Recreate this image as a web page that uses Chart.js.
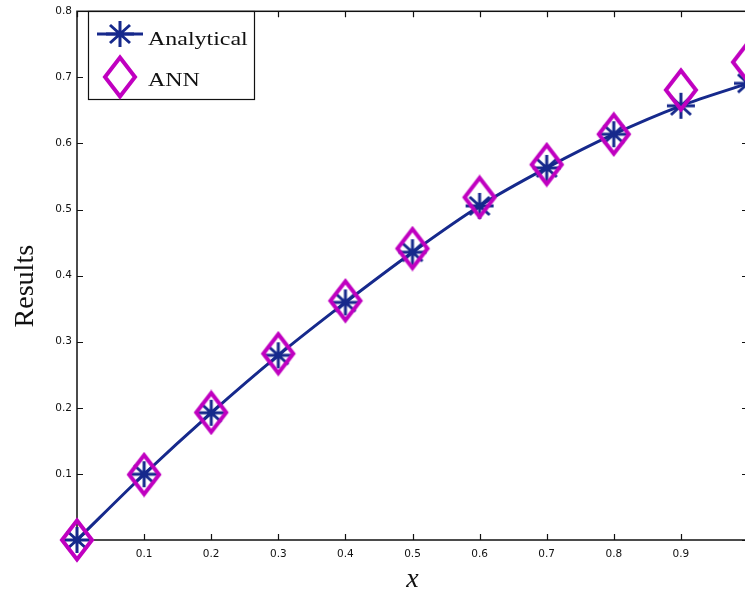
<!DOCTYPE html>
<html>
<head>
<meta charset="utf-8">
<script src="https://cdn.jsdelivr.net/npm/chart.js@4.4.0/dist/chart.umd.min.js"></script>
<style>
    body { margin: 0; background: #fff; }
    #wrap { width: 745px; height: 594px; overflow: hidden; }
</style>
</head>
<body>
<div id="wrap"><canvas id="chart" width="756" height="594"></canvas></div>
<script>
// Data
const xValues = [0, 0.1, 0.2, 0.3, 0.4, 0.5, 0.6, 0.7, 0.8, 0.9, 1.0];
const analytical = [0, 0.0995, 0.1925, 0.2795, 0.3595, 0.4355, 0.5055, 0.5630, 0.6140, 0.6570, 0.6910];
const ann = [0, 0.0990, 0.1930, 0.2820, 0.3620, 0.4410, 0.5185, 0.5680, 0.6140, 0.6810, 0.7230];
const xTicks = [0, 0.1, 0.2, 0.3, 0.4, 0.5, 0.6, 0.7, 0.8, 0.9, 1.0];
const yTicks = [0, 0.1, 0.2, 0.3, 0.4, 0.5, 0.6, 0.7, 0.8];
const seriesNames = ['Analytical', 'ANN'];

const blue = '#16298c';
const magenta = '#c000c0';

// Marker images (the figure is a bit stretched sideways)
function makeStar() {
    const c = document.createElement('canvas');
    c.width = 32; c.height = 30;
    const g = c.getContext('2d');
    g.strokeStyle = blue;
    g.lineWidth = 3;
    g.translate(16, 15);
    g.beginPath();
    g.moveTo(-14, 0); g.lineTo(14, 0);
    g.moveTo(0, -13); g.lineTo(0, 13);
    g.moveTo(-10, -9); g.lineTo(10, 9);
    g.moveTo(-10, 9); g.lineTo(10, -9);
    g.stroke();
    return c;
}

function makeDiamond() {
    const c = document.createElement('canvas');
    c.width = 38; c.height = 46;
    const g = c.getContext('2d');
    g.strokeStyle = magenta;
    g.lineWidth = 4;
    g.lineJoin = 'miter';
    g.translate(19, 23);
    g.beginPath();
    g.moveTo(0, -19.5);
    g.lineTo(15, 0);
    g.lineTo(0, 19.5);
    g.lineTo(-15, 0);
    g.closePath();
    g.stroke();
    return c;
}

const starImg = makeStar();
const diamondImg = makeDiamond();

// Frame, inner ticks and legend box
const framePlugin = {
    id: 'frame',
    beforeDatasetsDraw(chart) {
        const { ctx, chartArea: a, scales } = chart;
        ctx.save();
        ctx.strokeStyle = '#111';
        ctx.lineWidth = 1.5;
        ctx.strokeRect(a.left, a.top, a.right - a.left, a.bottom - a.top);
        ctx.lineWidth = 1.2;
        ctx.beginPath();
        xTicks.forEach(v => {
            const px = Math.round(scales.x.getPixelForValue(v)) + 0.5;
            ctx.moveTo(px, a.bottom); ctx.lineTo(px, a.bottom - 6);
            ctx.moveTo(px, a.top); ctx.lineTo(px, a.top + 6);
        });
        yTicks.forEach(v => {
            const py = Math.round(scales.y.getPixelForValue(v)) + 0.5;
            ctx.moveTo(a.left, py); ctx.lineTo(a.left + 6, py);
            ctx.moveTo(a.right, py); ctx.lineTo(a.right - 6, py);
        });
        ctx.stroke();
        ctx.restore();
    },
    afterDraw(chart) {
        const ctx = chart.ctx;
        ctx.save();
        // legend box
        ctx.fillStyle = '#fff';
        ctx.fillRect(88, 11, 166, 89);
        ctx.strokeStyle = '#111';
        ctx.lineWidth = 1.2;
        ctx.strokeRect(88.5, 11.5, 166, 88);
        // analytical entry
        ctx.strokeStyle = blue;
        ctx.lineWidth = 3;
        ctx.beginPath();
        ctx.moveTo(97, 34); ctx.lineTo(143, 34);
        ctx.stroke();
        ctx.drawImage(starImg, 120 - 16, 34 - 15);
        ctx.drawImage(diamondImg, 120 - 19, 77 - 23);
        // labels
        ctx.fillStyle = '#111';
        ctx.font = '18px "Liberation Serif", "Times New Roman", serif';
        ctx.textBaseline = 'alphabetic';
        ctx.textAlign = 'left';
        ctx.translate(148, 45);
        ctx.scale(1.33, 1);
        ctx.fillText(seriesNames[0], 0, 0);
        ctx.fillText(seriesNames[1], 0, 41);
        ctx.restore();
    }
};

new Chart(document.getElementById('chart'), {
    type: 'line',
    data: {
        labels: xValues,
        datasets: [
            {
                label: seriesNames[0],
                data: xValues.map((x, i) => ({ x: x, y: analytical[i] })),
                borderColor: blue,
                borderWidth: 3,
                cubicInterpolationMode: 'monotone',
                pointStyle: starImg,
                pointRadius: 1,
                pointHoverRadius: 1,
                pointBorderWidth: 0,
                fill: false,
                order: 1
            },
            {
                label: seriesNames[1],
                data: xValues.map((x, i) => ({ x: x, y: ann[i] })),
                showLine: false,
                borderColor: magenta,
                pointStyle: diamondImg,
                pointRadius: 1,
                pointHoverRadius: 1,
                pointBorderWidth: 0,
                fill: false,
                order: 0
            }
        ]
    },
    options: {
        responsive: false,
        animation: false,
        clip: false,
        layout: { padding: { top: 10, right: 4, left: 0, bottom: 0 } },
        plugins: {
            legend: { display: false },
            tooltip: { enabled: false }
        },
        scales: {
            x: {
                type: 'linear',
                min: 0,
                max: 1,
                afterFit: s => { s.height = 54; },
                afterBuildTicks: s => { s.ticks = xTicks.map(v => ({ value: v })); },
                grid: { display: false, drawTicks: false },
                border: { display: false },
                ticks: {
                    padding: 8,
                    color: '#111',
                    font: { family: 'DejaVu Sans', size: 10.5 },
                    maxRotation: 0,
                    autoSkip: false,
                    callback: v => (v === 0 || v === 1) ? '' : v.toFixed(1)
                },
                title: {
                    display: true,
                    text: 'x',
                    color: '#111',
                    padding: 0,
                    font: { family: '"Liberation Serif", serif', size: 28, style: 'italic', lineHeight: 1 }
                }
            },
            y: {
                min: 0,
                max: 0.8,
                afterFit: s => { s.width = 77; },
                afterBuildTicks: s => { s.ticks = yTicks.map(v => ({ value: v })); },
                grid: { display: false, drawTicks: false },
                border: { display: false },
                ticks: {
                    padding: 5,
                    color: '#111',
                    font: { family: 'DejaVu Sans', size: 10.5 },
                    autoSkip: false,
                    callback: v => v === 0 ? '' : v.toFixed(1)
                },
                title: {
                    display: true,
                    // trailing spaces nudge the label down like the original
                    text: 'Results   ',
                    color: '#111',
                    padding: { top: 9, bottom: 0 },
                    font: { family: '"Liberation Serif", serif', size: 28, lineHeight: 1.2 }
                }
            }
        }
    },
    plugins: [framePlugin]
});
</script>
</body>
</html>
